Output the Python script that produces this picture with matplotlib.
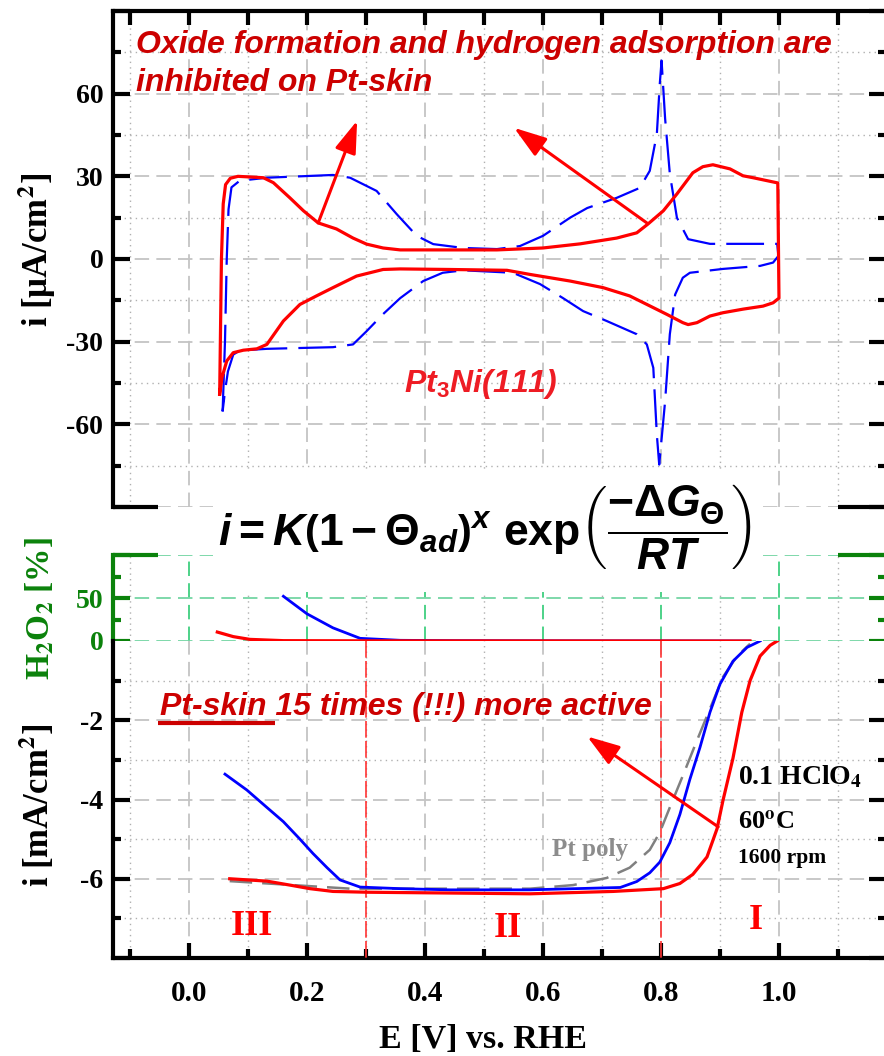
import matplotlib
matplotlib.use("Agg")
import matplotlib.pyplot as plt
from matplotlib.patches import Rectangle, FancyArrowPatch
from matplotlib.ticker import MultipleLocator, FixedLocator, FuncFormatter

plt.rcParams['axes.unicode_minus'] = False
plt.rcParams['mathtext.fontset'] = 'custom'
plt.rcParams['mathtext.rm'] = 'Liberation Sans:bold'
plt.rcParams['mathtext.it'] = 'Liberation Sans:italic:bold'
plt.rcParams['mathtext.bf'] = 'Liberation Sans:bold'
plt.rcParams['mathtext.fallback'] = 'cm'

# ---------------- cyclic voltammograms (uA/cm2) ----------------
cv_pt3ni_E = [0.052, 0.055, 0.058, 0.062, 0.070, 0.083, 0.126, 0.143, 0.171, 0.194,
              0.219, 0.250, 0.278, 0.301, 0.329, 0.358, 0.442, 0.522, 0.600, 0.663,
              0.725, 0.759, 0.778, 0.804, 0.827, 0.854, 0.871, 0.888, 0.917, 0.939,
              0.956, 0.998, 1.000, 0.990, 0.973, 0.939, 0.905, 0.883, 0.861, 0.846,
              0.837, 0.810, 0.747, 0.702, 0.646, 0.578, 0.539, 0.442, 0.358, 0.329,
              0.284, 0.244, 0.216, 0.188, 0.160, 0.132, 0.115, 0.092, 0.075, 0.064,
              0.056, 0.052]
cv_pt3ni_i = [-49.0, 0.0, 20.0, 27.0, 29.3, 30.0, 29.5, 27.7, 22.2, 17.5,
              13.1, 10.9, 7.6, 5.4, 4.0, 3.3, 3.3, 3.3, 4.0, 5.5,
              7.6, 9.5, 12.7, 17.5, 23.6, 31.3, 33.5, 34.2, 32.7, 30.2,
              29.5, 27.6, -14.2, -15.9, -17.1, -18.2, -19.5, -20.7, -23.1, -23.8,
              -23.1, -20.1, -13.4, -10.4, -8.0, -5.6, -4.1, -3.8, -3.6, -3.8,
              -6.2, -10.4, -13.4, -16.5, -22.5, -31.0, -32.6, -33.1, -34.0, -37.0,
              -43.0, -49.0]

cv_pt111_E = [0.057, 0.061, 0.064, 0.067, 0.072, 0.086, 0.132, 0.244, 0.273, 0.318,
              0.352, 0.386, 0.414, 0.465, 0.522, 0.561, 0.600, 0.646, 0.675, 0.725,
              0.764, 0.781, 0.793, 0.798, 0.801, 0.807, 0.815, 0.827, 0.846, 0.883,
              0.997, 0.999, 0.990, 0.968, 0.905, 0.849, 0.837, 0.824, 0.815, 0.807,
              0.797, 0.793, 0.787, 0.776, 0.759, 0.708, 0.668, 0.634, 0.595, 0.549,
              0.465, 0.430, 0.397, 0.358, 0.329, 0.301, 0.278, 0.244, 0.132, 0.086,
              0.075, 0.066, 0.061, 0.057]
cv_pt111_i = [-55.3, -30.0, 0.0, 18.0, 26.0, 28.4, 29.5, 30.5, 29.5, 24.7,
              16.3, 8.4, 5.4, 4.0, 3.6, 4.7, 8.4, 15.0, 18.5, 22.2,
              25.8, 32.0, 45.4, 63.6, 72.0, 51.0, 30.9, 15.0, 7.2, 5.5,
              5.5, 1.1, -1.3, -2.5, -3.6, -5.0, -6.8, -12.9, -27.3, -51.6,
              -74.6, -63.8, -39.5, -31.0, -27.3, -22.5, -18.9, -14.2, -9.1, -5.0,
              -4.1, -5.0, -8.0, -14.2, -20.0, -26.2, -31.0, -32.0, -32.6, -33.2,
              -34.7, -40.8, -48.0, -55.3]

# ---------------- ORR polarization curves (mA/cm2) ----------------
orr_pt3ni_E = [0.069, 0.132, 0.171, 0.205, 0.244, 0.301, 0.578, 0.719, 0.804, 0.832,
               0.854, 0.878, 0.895, 0.905, 0.922, 0.937, 0.951, 0.968, 0.985, 0.997]
orr_pt3ni_i = [-6.00, -6.06, -6.16, -6.25, -6.32, -6.34, -6.38, -6.32, -6.25, -6.12,
               -5.89, -5.45, -4.74, -4.03, -2.96, -1.80, -1.00, -0.38, -0.11, 0.0]

orr_pt111_E = [0.061, 0.098, 0.132, 0.160, 0.188, 0.210, 0.234, 0.256, 0.290, 0.358,
               0.442, 0.578, 0.731, 0.759, 0.781, 0.798, 0.815, 0.832, 0.849, 0.866,
               0.883, 0.900, 0.922, 0.946, 0.968]
orr_pt111_i = [-3.36, -3.76, -4.20, -4.56, -5.00, -5.36, -5.72, -6.03, -6.21, -6.25,
               -6.28, -6.28, -6.22, -6.07, -5.85, -5.58, -5.09, -4.38, -3.49, -2.69,
               -1.80, -1.09, -0.51, -0.16, 0.0]

orr_ptpoly_E = [0.069, 0.273, 0.578, 0.651, 0.708, 0.747, 0.781, 0.798, 0.815, 0.837,
                0.861, 0.883, 0.905, 0.929, 0.951]
orr_ptpoly_i = [-6.06, -6.25, -6.25, -6.16, -5.98, -5.72, -5.27, -4.83, -4.20, -3.40,
                -2.51, -1.71, -0.91, -0.38, -0.07]

# ---------------- peroxide yield (%) ----------------
h2o2_pt111_E = [0.160, 0.200, 0.244, 0.290, 0.358, 0.450, 0.600, 0.800, 0.950]
h2o2_pt111_v = [52.0, 31.6, 15.3, 3.1, 0.8, 0.4, 0.2, 0.1, 0.0]
h2o2_pt3ni_E = [0.048, 0.075, 0.103, 0.160, 0.300, 0.600, 0.951]
h2o2_pt3ni_v = [10.4, 5.1, 1.9, 0.4, 0.2, 0.1, 0.0]

region_bounds = [0.3, 0.8]
region_labels = ['III', 'II', 'I']

# ---------------- figure layout ----------------
W, H = 884, 1056
fig = plt.figure(figsize=(W / 100, H / 100), dpi=100)
SERIF = 'Liberation Serif'
SANS = 'Liberation Sans'
RED = '#ff0000'
DARKRED = '#cc0000'
BLUE = '#0000ff'
GREEN = '#0b820b'
GRID = '#c4c4c4'
XLIM = (-0.1288, 1.1814)


def px_rect(l, t, r, b):
    return [l / W, 1 - b / H, (r - l) / W, (b - t) / H]


ax_cv = fig.add_axes(px_rect(113, 11, 886, 507))
ax_h2 = fig.add_axes(px_rect(113, 555, 886, 641))
ax_orr = fig.add_axes(px_rect(113, 641, 886, 958))

major_grid = dict(color=GRID, linestyle=(0, (8, 4)), linewidth=1.3)
minor_grid = dict(color='#b0b0b0', linestyle=(0, (1, 3)), linewidth=1.0)


def style_common(ax, edge):
    ax.set_xlim(*XLIM)
    ax.xaxis.set_major_locator(MultipleLocator(0.2))
    ax.xaxis.set_minor_locator(MultipleLocator(0.1))
    for s in ax.spines.values():
        s.set_linewidth(3)
        s.set_color(edge)
    ax.set_axisbelow(True)


# ---- top panel: CV ----
ax = ax_cv
style_common(ax, 'k')
ax.set_ylim(-90, 90)
ax.yaxis.set_major_locator(MultipleLocator(30))
ax.yaxis.set_minor_locator(MultipleLocator(15))
ax.yaxis.set_major_formatter(FuncFormatter(lambda v, p: '' if abs(v) > 80 else f'{v:.0f}'))
ax.spines['bottom'].set_visible(False)
ax.tick_params(axis='x', which='both', direction='in', top=True, bottom=False,
               labelbottom=False, length=10, width=3)
ax.tick_params(axis='y', which='major', direction='in', left=True, right=True,
               length=12, width=3, labelsize=20, pad=7)
ax.tick_params(axis='y', which='minor', direction='in', left=True, right=True,
               length=6, width=3)
for lab in ax.get_yticklabels():
    lab.set_fontfamily(SERIF)
    lab.set_fontweight('bold')
ax.grid(which='major', **major_grid)
ax.grid(which='minor', **minor_grid)
for x0, x1 in [(0, 0.058), (0.938, 1.0)]:
    ax.plot([x0, x1], [0, 0], transform=ax.transAxes, color='k', lw=3,
            solid_capstyle='butt', clip_on=False, zorder=5)

ax.plot(cv_pt111_E, cv_pt111_i, color=BLUE, lw=1.6, dashes=(17, 5))
ax.plot(cv_pt3ni_E, cv_pt3ni_i, color=RED, lw=2.3)

ax.text(-0.09, 77.5, 'Oxide formation and hydrogen adsorption are',
        family=SANS, weight='bold', style='italic', fontsize=23,
        color=DARKRED, ha='left', va='center')
ax.text(-0.09, 64, 'inhibited on Pt-skin', family=SANS, weight='bold',
        style='italic', fontsize=23, color=DARKRED, ha='left', va='center')
ax.text(0.364, -45.5, r'Pt$_\mathit{3}$Ni(111)', family=SANS, weight='bold',
        style='italic', fontsize=23, color='#ee1c24', ha='left', va='center',
        math_fontfamily='custom')

for (x0, y0), (x1, y1) in [((0.219, 13.1), (0.285, 50.2)),
                           ((0.776, 13.1), (0.551, 47.6))]:
    ax.add_patch(FancyArrowPatch((x0, y0), (x1, y1),
                                 arrowstyle='-|>,head_length=0.9,head_width=0.3',
                                 mutation_scale=22, color=RED, lw=2.2,
                                 shrinkA=0, shrinkB=0, zorder=6))

# ---- middle strip: H2O2 yield ----
ax = ax_h2
style_common(ax, GREEN)
ax.set_ylim(0, 100)
ax.yaxis.set_major_locator(FixedLocator([0, 50, 100]))
ax.yaxis.set_minor_locator(FixedLocator([25, 75]))
ax.yaxis.set_major_formatter(FuncFormatter(lambda v, p: '' if v > 90 else f'{v:.0f}'))
ax.spines['bottom'].set_visible(False)
ax.spines['top'].set_visible(False)
ax.tick_params(axis='x', which='both', length=0, labelbottom=False)
ax.tick_params(axis='y', which='major', direction='in', left=True, right=True,
               length=12, width=3, color=GREEN, labelcolor=GREEN,
               labelsize=20, pad=7)
ax.tick_params(axis='y', which='minor', direction='in', left=True, right=True,
               length=6, width=3, color=GREEN)
for lab in ax.get_yticklabels():
    lab.set_fontfamily(SERIF)
    lab.set_fontweight('bold')
ax.yaxis.grid(True, which='major', color='#74d6a4', linestyle=(0, (8, 4)), lw=1.3)
ax.xaxis.grid(True, which='major', color='#3fcf7f', linestyle=(0, (8, 4)), lw=1.3)
ax.xaxis.grid(True, which='minor', **minor_grid)
for x0, x1 in [(0, 0.058), (0.938, 1.0)]:
    ax.plot([x0, x1], [1, 1], transform=ax.transAxes, color=GREEN, lw=3,
            solid_capstyle='butt', clip_on=False, zorder=5)
ax.plot(h2o2_pt111_E, h2o2_pt111_v, color=BLUE, lw=2.0, clip_on=False)
ax.plot(h2o2_pt3ni_E, h2o2_pt3ni_v, color=RED, lw=2.3, clip_on=False)
ax.patch.set_alpha(0)

# ---- bottom panel: ORR currents ----
ax = ax_orr
style_common(ax, 'k')
ax.set_ylim(-8, 0)
ax.yaxis.set_major_locator(FixedLocator([-8, -6, -4, -2]))
ax.yaxis.set_minor_locator(FixedLocator([-7, -5, -3, -1]))
ax.yaxis.set_major_formatter(FuncFormatter(lambda v, p: '' if v < -7 else f'{v:.0f}'))
ax.xaxis.set_major_formatter(FuncFormatter(lambda v, p: f'{v:.1f}'))
ax.spines['top'].set_visible(False)
ax.tick_params(axis='x', which='major', direction='in', length=11, width=3,
               labelsize=21, pad=16)
ax.tick_params(axis='x', which='minor', direction='in', length=6.5, width=3)
ax.tick_params(axis='y', which='major', direction='in', left=True, right=True,
               length=12, width=3, labelsize=20, pad=7)
ax.tick_params(axis='y', which='minor', direction='in', left=True, right=True,
               length=6, width=3)
for lab in ax.get_yticklabels() + ax.get_xticklabels():
    lab.set_fontfamily(SERIF)
    lab.set_fontweight('bold')
ax.grid(which='major', **major_grid)
ax.grid(which='minor', **minor_grid)

for xb in region_bounds:
    ax.plot([xb, xb], [0, -8], color='#ff3333', lw=1.2, dashes=(10, 2), zorder=3)

ax.plot(orr_ptpoly_E, orr_ptpoly_i, color='#808080', lw=1.8, dashes=(9, 4), zorder=4)
ax.plot(orr_pt111_E, orr_pt111_i, color=BLUE, lw=2.0, zorder=5)
ax.plot(orr_pt3ni_E, orr_pt3ni_i, color=RED, lw=2.3, zorder=6)

ax.text(-0.049, -1.66, 'Pt-skin 15 times (!!!) more active', family=SANS,
        weight='bold', style='italic', fontsize=23, color=DARKRED,
        ha='left', va='center', zorder=7)
ax.plot([-0.052, 0.145], [-2.06, -2.06], color=DARKRED, lw=3,
        solid_capstyle='butt', zorder=7)
ax.add_patch(FancyArrowPatch((0.897, -4.69), (0.675, -2.41),
                             arrowstyle='-|>,head_length=0.9,head_width=0.3',
                             mutation_scale=22, color=RED, lw=2.2,
                             shrinkA=0, shrinkB=0, zorder=8))

for lbl, xc, yc in zip(region_labels, [0.107, 0.541, 0.961], [-7.2, -7.25, -7.05]):
    ax.text(xc, yc, lbl, family=SERIF, weight='bold', fontsize=26, color=RED,
            ha='center', va='center')

ax.text(0.93, -3.44, r'0.1 HClO$_\mathbf{4}$', family=SERIF, weight='bold',
        fontsize=20, ha='left', va='center', math_fontfamily='stix')
ax.text(0.93, -4.59, r'60$^\mathbf{o}$C', family=SERIF, weight='bold',
        fontsize=19, ha='left', va='center', math_fontfamily='stix')
ax.text(0.93, -5.47, '1600 rpm', family=SERIF, weight='bold', fontsize=15.5,
        ha='left', va='center')
ax.text(0.615, -5.27, 'Pt poly', family=SERIF, weight='bold', fontsize=18,
        color='#8c8c8c', ha='left', va='center')

# ---- axis titles ----
fig.text(37 / W, 1 - 250 / H, r'i [μA/cm$^\mathbf{2}$]', family=SERIF,
         weight='bold', fontsize=25, rotation=90, ha='center', va='center',
         math_fontfamily='stix')
fig.text(40 / W, 1 - 609 / H, r'H$_\mathbf{2}$O$_\mathbf{2}$ [%]', family=SERIF,
         weight='bold', fontsize=24, rotation=90, ha='center', va='center',
         color=GREEN, math_fontfamily='stix')
fig.text(37 / W, 1 - 805 / H, r'i [mA/cm$^\mathbf{2}$]', family=SERIF,
         weight='bold', fontsize=25, rotation=90, ha='center', va='center',
         math_fontfamily='stix')
fig.text(483 / W, 1 - 1040 / H, 'E [V] vs. RHE', family=SERIF, weight='bold',
         fontsize=24.5, ha='center', va='center')

# ---- rate expression ----
fig.add_artist(Rectangle((213 / W, 1 - 592 / H), 550 / W, 122 / H,
                         transform=fig.transFigure, facecolor='white',
                         edgecolor='none', zorder=10))
fig.text(218 / W, 1 - 545 / H,
         r'$i = K\left(1-\Theta_{ad}\right)^{x}\ \mathrm{exp}\left(\dfrac{-\Delta G_{\Theta}}{RT}\right)$',
         fontsize=32, ha='left', va='baseline', zorder=11, math_fontfamily='custom')

fig.savefig('out.png', dpi=100, facecolor='white')
